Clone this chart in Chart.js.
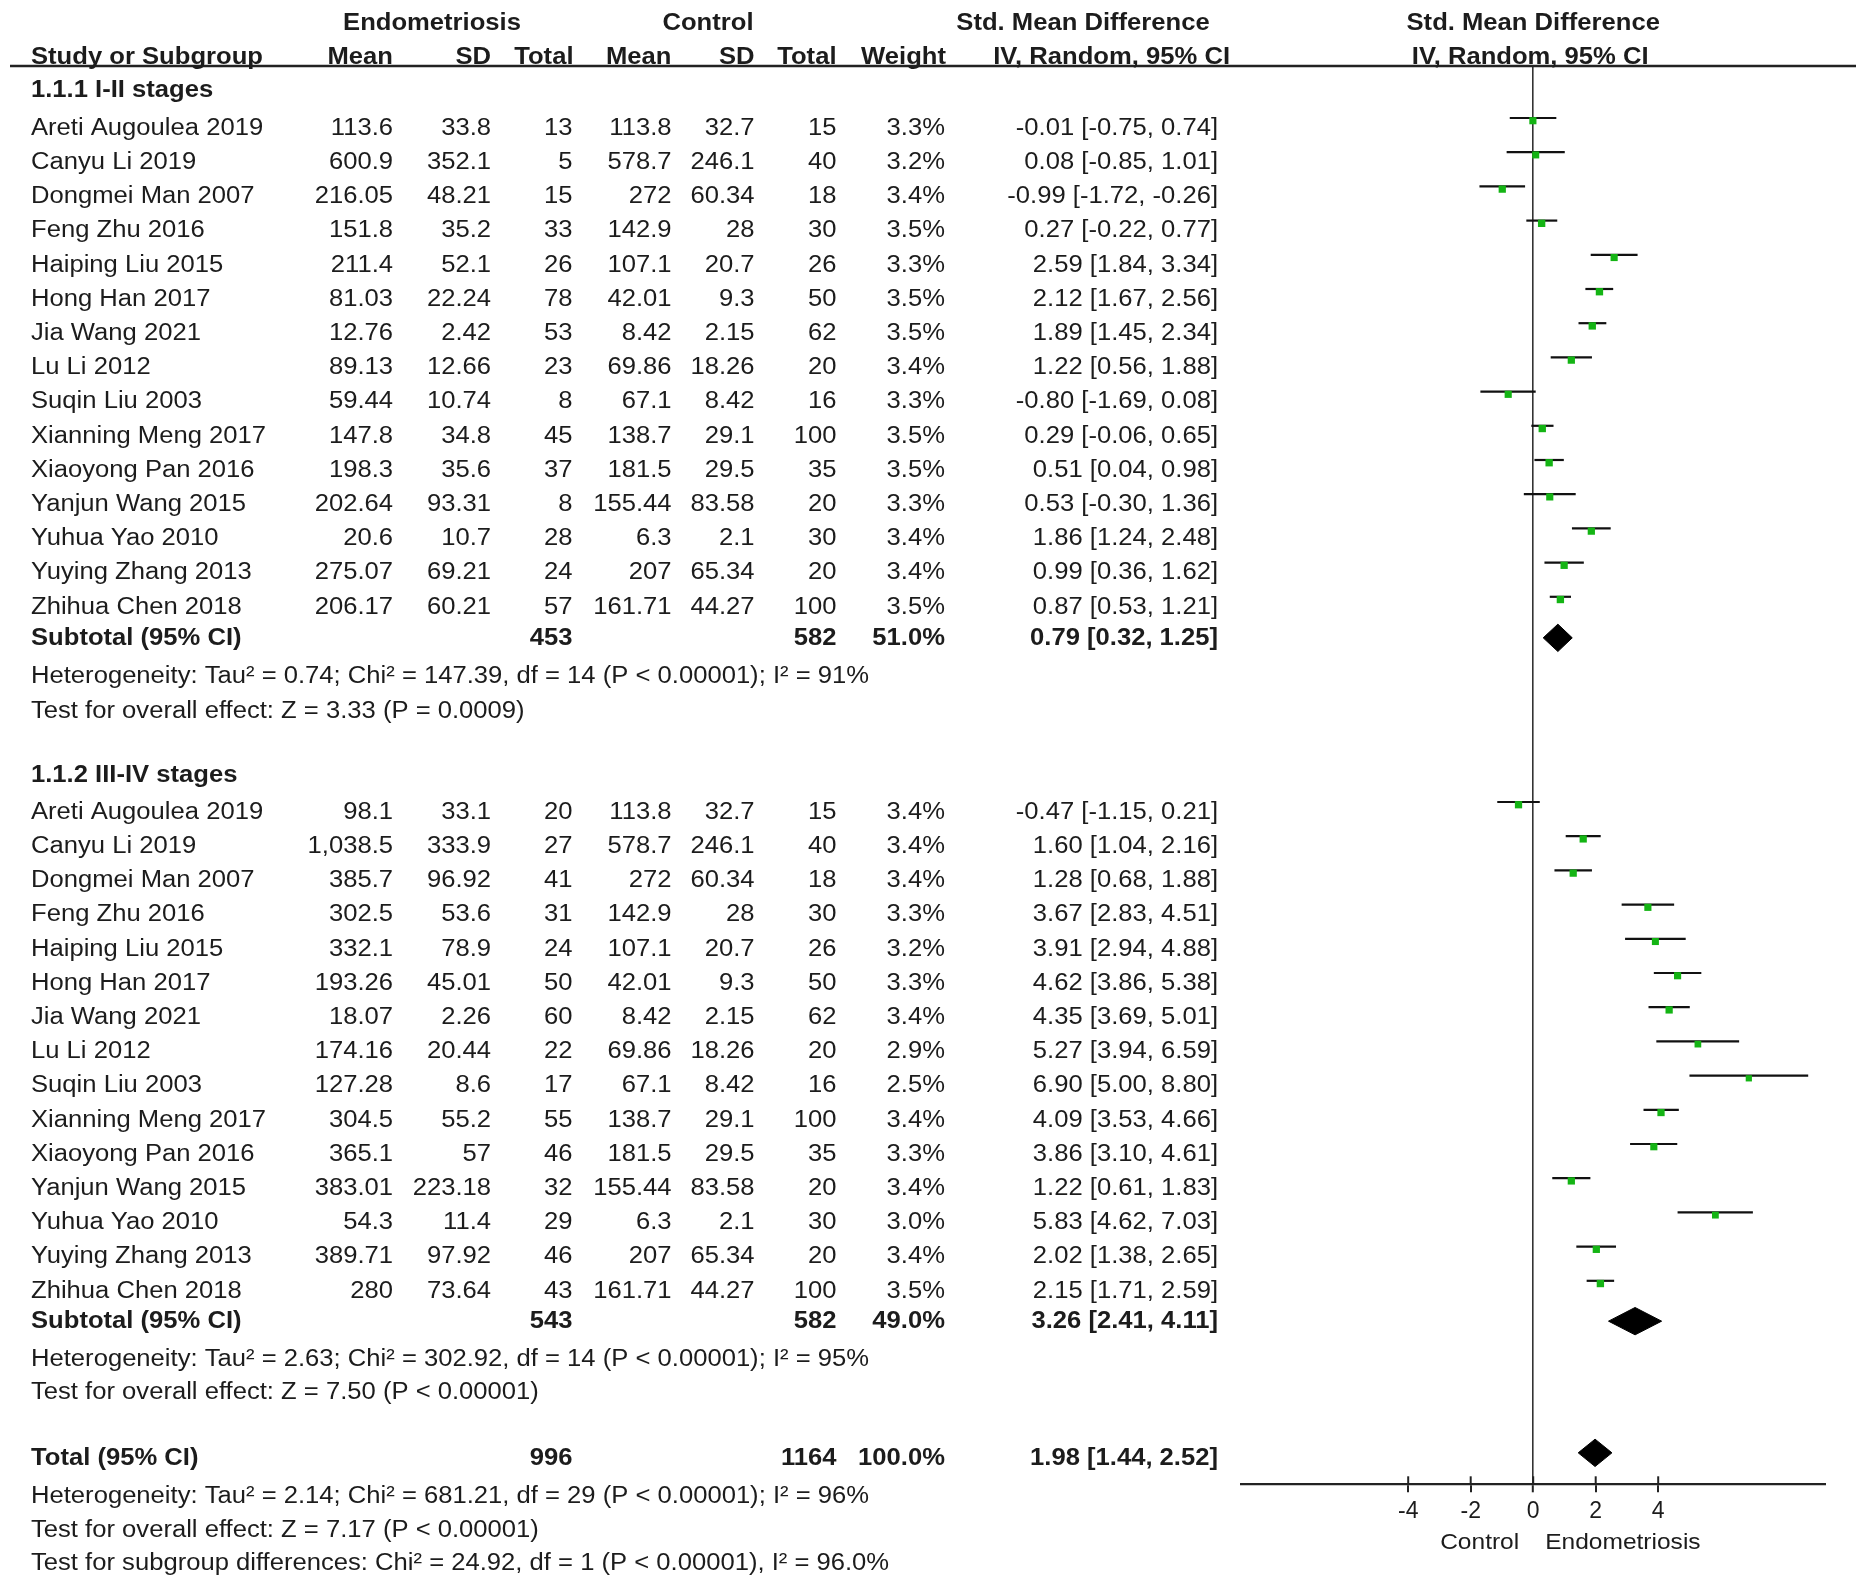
<!DOCTYPE html>
<html><head><meta charset="utf-8">
<script src="https://cdn.jsdelivr.net/npm/chart.js@4.4.0/dist/chart.umd.min.js"></script>
<style>html,body{margin:0;padding:0;background:#fff;} #wrap{position:relative;width:1861px;height:1581px;}</style>
</head><body><div id="wrap"><canvas id="c"></canvas></div>
<script>
// ---------------- DATA ----------------
const studyNames = ["Areti Augoulea 2019","Canyu Li 2019","Dongmei Man 2007","Feng Zhu 2016","Haiping Liu 2015","Hong Han 2017","Jia Wang 2021","Lu Li 2012","Suqin Liu 2003","Xianning Meng 2017","Xiaoyong Pan 2016","Yanjun Wang 2015","Yuhua Yao 2010","Yuying Zhang 2013","Zhihua Chen 2018"];
const groupTitles = ["1.1.1 I-II stages","1.1.2 III-IV stages"];

// Subgroup 1 (I-II stages)
const eMean1 = ["113.6","600.9","216.05","151.8","211.4","81.03","12.76","89.13","59.44","147.8","198.3","202.64","20.6","275.07","206.17"];
const eSD1   = ["33.8","352.1","48.21","35.2","52.1","22.24","2.42","12.66","10.74","34.8","35.6","93.31","10.7","69.21","60.21"];
const eN1    = [13,5,15,33,26,78,53,23,8,45,37,8,28,24,57];
const cMean1 = ["113.8","578.7","272","142.9","107.1","42.01","8.42","69.86","67.1","138.7","181.5","155.44","6.3","207","161.71"];
const cSD1   = ["32.7","246.1","60.34","28","20.7","9.3","2.15","18.26","8.42","29.1","29.5","83.58","2.1","65.34","44.27"];
const cN1    = [15,40,18,30,26,50,62,20,16,100,35,20,30,20,100];
const weight1 = [3.3,3.2,3.4,3.5,3.3,3.5,3.5,3.4,3.3,3.5,3.5,3.3,3.4,3.4,3.5];
const smd1 = [-0.01,0.08,-0.99,0.27,2.59,2.12,1.89,1.22,-0.80,0.29,0.51,0.53,1.86,0.99,0.87];
const lo1  = [-0.75,-0.85,-1.72,-0.22,1.84,1.67,1.45,0.56,-1.69,-0.06,0.04,-0.30,1.24,0.36,0.53];
const hi1  = [0.74,1.01,-0.26,0.77,3.34,2.56,2.34,1.88,0.08,0.65,0.98,1.36,2.48,1.62,1.21];

// Subgroup 2 (III-IV stages)
const eMean2 = ["98.1","1,038.5","385.7","302.5","332.1","193.26","18.07","174.16","127.28","304.5","365.1","383.01","54.3","389.71","280"];
const eSD2   = ["33.1","333.9","96.92","53.6","78.9","45.01","2.26","20.44","8.6","55.2","57","223.18","11.4","97.92","73.64"];
const eN2    = [20,27,41,31,24,50,60,22,17,55,46,32,29,46,43];
const cMean2 = ["113.8","578.7","272","142.9","107.1","42.01","8.42","69.86","67.1","138.7","181.5","155.44","6.3","207","161.71"];
const cSD2   = ["32.7","246.1","60.34","28","20.7","9.3","2.15","18.26","8.42","29.1","29.5","83.58","2.1","65.34","44.27"];
const cN2    = [15,40,18,30,26,50,62,20,16,100,35,20,30,20,100];
const weight2 = [3.4,3.4,3.4,3.3,3.2,3.3,3.4,2.9,2.5,3.4,3.3,3.4,3.0,3.4,3.5];
const smd2 = [-0.47,1.60,1.28,3.67,3.91,4.62,4.35,5.27,6.90,4.09,3.86,1.22,5.83,2.02,2.15];
const lo2  = [-1.15,1.04,0.68,2.83,2.94,3.86,3.69,3.94,5.00,3.53,3.10,0.61,4.62,1.38,1.71];
const hi2  = [0.21,2.16,1.88,4.51,4.88,5.38,5.01,6.59,8.80,4.66,4.61,1.83,7.03,2.65,2.59];

// Pooled estimates: [subgroup 1, subgroup 2, total]
const pooledLabels = ["Subtotal (95% CI)","Subtotal (95% CI)","Total (95% CI)"];
const pooledEN = [453,543,996];
const pooledCN = [582,582,1164];
const pooledW  = ["51.0%","49.0%","100.0%"];
const pooledEst = [0.79,3.26,1.98];
const pooledLo  = [0.32,2.41,1.44];
const pooledHi  = [1.25,4.11,2.52];

const hetTexts = [
  "Heterogeneity: Tau\u00b2 = 0.74; Chi\u00b2 = 147.39, df = 14 (P < 0.00001); I\u00b2 = 91%",
  "Heterogeneity: Tau\u00b2 = 2.63; Chi\u00b2 = 302.92, df = 14 (P < 0.00001); I\u00b2 = 95%",
  "Heterogeneity: Tau\u00b2 = 2.14; Chi\u00b2 = 681.21, df = 29 (P < 0.00001); I\u00b2 = 96%"
];
const effectTexts = [
  "Test for overall effect: Z = 3.33 (P = 0.0009)",
  "Test for overall effect: Z = 7.50 (P < 0.00001)",
  "Test for overall effect: Z = 7.17 (P < 0.00001)"
];
const subgroupText = "Test for subgroup differences: Chi\u00b2 = 24.92, df = 1 (P < 0.00001), I\u00b2 = 96.0%";

const xTickValues = [-4,-2,0,2,4];
const favourLabels = ["Control","Endometriosis"];

// ---------------- LAYOUT / STYLE ----------------
const FONT = '"Liberation Sans", Arial, Helvetica, sans-serif';
const FS = 23.5, SX = 1.09;
const TXT = '#1c1c1c';
const GREEN = '#14b414';
const G2_START = 20;                 // first row of subgroup 2
const POOLED_ROWS = [14.93, 34.9, 38.9];
const DIAMOND_ROWS = [14.92, 34.9, 38.75];
const LINE_OFF = -0.28, SQ_OFF = -0.2, DIA_H = 0.4;

const groups = [
  {eMean:eMean1,eSD:eSD1,eN:eN1,cMean:cMean1,cSD:cSD1,cN:cN1,w:weight1,smd:smd1,lo:lo1,hi:hi1,start:0},
  {eMean:eMean2,eSD:eSD2,eN:eN2,cMean:cMean2,cSD:cSD2,cN:cN2,w:weight2,smd:smd2,lo:lo2,hi:hi2,start:G2_START}
];

// ---------------- DATASETS ----------------
const datasets = [];
const squares = [], radii = [];
groups.forEach(g => {
  g.smd.forEach((v,i) => {
    const r = g.start + i;
    squares.push({x:v, y:r + SQ_OFF});
    radii.push(5.2*Math.sqrt(g.w[i]/3.5));
  });
});
datasets.push({type:'scatter', data:squares, pointStyle:'rect', pointRadius:radii, pointHoverRadius:radii,
  backgroundColor:GREEN, borderColor:GREEN, borderWidth:0, order:0, clip:false});
groups.forEach(g => {
  g.smd.forEach((v,i) => {
    const r = g.start + i + LINE_OFF;
    datasets.push({type:'scatter', showLine:true, data:[{x:g.lo[i],y:r},{x:g.hi[i],y:r}],
      borderColor:'#111', borderWidth:2.2, pointRadius:0, pointHoverRadius:0, order:2, clip:false});
  });
});
pooledEst.forEach((v,k) => {
  const r = DIAMOND_ROWS[k];
  datasets.push({type:'scatter', showLine:true, tension:0,
    data:[{x:pooledLo[k],y:r},{x:v,y:r-DIA_H},{x:pooledHi[k],y:r},{x:v,y:r+DIA_H},{x:pooledLo[k],y:r}],
    borderColor:'#000', backgroundColor:'#000', borderWidth:1, fill:'shape', pointRadius:0, pointHoverRadius:0, order:1, clip:false});
});

// ---------------- TEXT PLUGIN ----------------
function txt(ctx, s, x, y, align, bold, size) {
  ctx.save();
  ctx.font = (bold ? 'bold ' : '') + (size || FS) + 'px ' + FONT;
  ctx.fillStyle = TXT;
  ctx.textBaseline = 'middle';
  ctx.textAlign = align;
  ctx.translate(x, y);
  ctx.scale(SX, 1);
  ctx.fillText(s, 0, 0);
  ctx.restore();
}
const COL = {name:31, eMean:393, eSD:491, eN:572.5, cMean:671.5, cSD:754.5, cN:836.5, w:945, ci:1218, ciHead:1230};
const fmt = v => v.toFixed(2);
const ciStr = (e,l,h) => fmt(e) + ' [' + fmt(l) + ', ' + fmt(h) + ']';

const tablePlugin = {
  id:'table',
  afterDraw(chart) {
    const ctx = chart.ctx, ys = chart.scales.y, xs = chart.scales.x, ca = chart.chartArea;
    const Y = v => ys.getPixelForValue(v);
    // header rule
    ctx.save();
    ctx.strokeStyle = '#222'; ctx.lineWidth = 2.5;
    ctx.beginPath(); ctx.moveTo(10, ca.top); ctx.lineTo(1856, ca.top); ctx.stroke();
    // upper half of tick marks
    ctx.lineWidth = 2;
    xTickValues.forEach(t => {
      const px = xs.getPixelForValue(t);
      ctx.beginPath(); ctx.moveTo(px, ca.bottom - 8); ctx.lineTo(px, ca.bottom); ctx.stroke();
    });
    ctx.restore();

    const plotCenter = (ca.left + ca.right) / 2;
    // headers
    const h1 = Y(-3.05), h2 = Y(-2.06);
    txt(ctx, "Endometriosis", 432, h1, 'center', true);
    txt(ctx, "Control", 708, h1, 'center', true);
    txt(ctx, "Std. Mean Difference", 1083, h1, 'center', true);
    txt(ctx, "Std. Mean Difference", plotCenter, h1, 'center', true);
    txt(ctx, "Study or Subgroup", COL.name, h2, 'left', true);
    txt(ctx, "Mean", COL.eMean, h2, 'right', true);
    txt(ctx, "SD", COL.eSD, h2, 'right', true);
    txt(ctx, "Total", COL.eN + 1, h2, 'right', true);
    txt(ctx, "Mean", COL.cMean, h2, 'right', true);
    txt(ctx, "SD", COL.cSD, h2, 'right', true);
    txt(ctx, "Total", COL.cN, h2, 'right', true);
    txt(ctx, "Weight", COL.w + 1, h2, 'right', true);
    txt(ctx, "IV, Random, 95% CI", COL.ciHead, h2, 'right', true);
    txt(ctx, "IV, Random, 95% CI", plotCenter - 3, h2, 'center', true);

    // subgroup titles
    txt(ctx, groupTitles[0], COL.name, Y(-1.07), 'left', true);
    txt(ctx, groupTitles[1], COL.name, Y(18.94), 'left', true);

    // study rows
    groups.forEach(g => {
      studyNames.forEach((n,i) => {
        const y = Y(g.start + i + 0.02);
        txt(ctx, n, COL.name, y, 'left', false);
        txt(ctx, g.eMean[i], COL.eMean, y, 'right', false);
        txt(ctx, g.eSD[i], COL.eSD, y, 'right', false);
        txt(ctx, String(g.eN[i]), COL.eN, y, 'right', false);
        txt(ctx, g.cMean[i], COL.cMean, y, 'right', false);
        txt(ctx, g.cSD[i], COL.cSD, y, 'right', false);
        txt(ctx, String(g.cN[i]), COL.cN, y, 'right', false);
        txt(ctx, g.w[i].toFixed(1) + '%', COL.w, y, 'right', false);
        txt(ctx, ciStr(g.smd[i], g.lo[i], g.hi[i]), COL.ci, y, 'right', false);
      });
    });

    // pooled rows
    pooledLabels.forEach((lab,k) => {
      const y = Y(POOLED_ROWS[k] + 0.02);
      txt(ctx, lab, COL.name, y, 'left', true);
      txt(ctx, String(pooledEN[k]), COL.eN, y, 'right', true);
      txt(ctx, String(pooledCN[k]), COL.cN, y, 'right', true);
      txt(ctx, pooledW[k], COL.w, y, 'right', true);
      txt(ctx, ciStr(pooledEst[k], pooledLo[k], pooledHi[k]), COL.ci, y, 'right', true);
    });

    // heterogeneity & tests
    const hetRows = [16.05, 36.02, 40.02], effRows = [17.06, 37.0, 41.02];
    hetTexts.forEach((s,k) => txt(ctx, s, COL.name, Y(hetRows[k]), 'left', false));
    effectTexts.forEach((s,k) => txt(ctx, s, COL.name, Y(effRows[k]), 'left', false));
    txt(ctx, subgroupText, COL.name, Y(42.0), 'left', false);

    // favour labels
    const x0 = xs.getPixelForValue(0);
    txt(ctx, favourLabels[0], x0 - 14, ca.bottom + 58, 'right', false, 22.5);
    txt(ctx, favourLabels[1], x0 + 12, ca.bottom + 58, 'left', false, 22.5);
  }
};

// ---------------- CHART ----------------
new Chart(document.getElementById('c'), {
  type:'scatter',
  data:{datasets},
  options:{
    responsive:true, maintainAspectRatio:false, animation:false, devicePixelRatio:1,
    events:[],
    layout:{padding:{left:1240.7, right:35.3, top:66, bottom:0}},
    plugins:{legend:{display:false}, tooltip:{enabled:false}},
    scales:{
      x:{type:'linear', position:'bottom', min:-9.36, max:9.36,
        afterBuildTicks: s => { s.ticks = xTickValues.map(v => ({value:v})); },
        afterFit: s => { s.height = 96.7; },
        ticks:{font:{family:FONT, size:23}, color:TXT, padding:6, autoSkip:false, maxRotation:0, minRotation:0,
          callback: v => String(v)},
        grid:{drawOnChartArea:true, drawTicks:true, tickLength:8, tickWidth:2, tickColor:'#222',
          color: c => (c.tick && c.tick.value === 0) ? '#333' : 'rgba(0,0,0,0)',
          lineWidth: c => (c.tick && c.tick.value === 0) ? 1.6 : 0},
        border:{display:true, color:'#222', width:2.2}
      },
      y:{type:'linear', display:false, reverse:true, min:-1.8, max:39.67}
    }
  },
  plugins:[tablePlugin]
});
</script>
</body></html>
